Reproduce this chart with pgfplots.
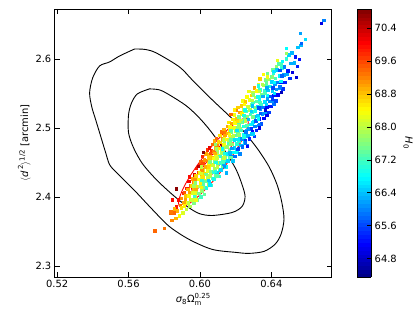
\documentclass[10pt,border=0pt]{standalone}
\usepackage{amsmath}
\usepackage{fontspec}
\setmainfont{DejaVu Sans}
\usepackage{pgfplots}
\pgfplotsset{compat=1.18}

\begin{document}
\begin{tikzpicture}
\begin{axis}[
    at={(0,0)}, anchor=south west,
    scale only axis, width=278bp, height=269bp,
    xmin=0.5187, xmax=0.6739, ymin=2.284, ymax=2.673,
    xtick={0.52,0.56,0.60,0.64}, ytick={2.3,2.4,2.5,2.6},
    xtick pos=both, ytick pos=both,
    xticklabel pos=lower, yticklabel pos=left,
    tick align=inside, major tick length=5bp,
    minor tick num=0,
    axis line style={line width=0.9bp},
    tick style={line width=0.7bp, black},
    ticklabel style={font=\fontsize{10}{12}\selectfont},
    xticklabel style={/pgf/number format/.cd, fixed, fixed zerofill, precision=2, assume math mode=true},
    yticklabel style={/pgf/number format/.cd, fixed, fixed zerofill, precision=1, assume math mode=true},
    xlabel={$\text{\itshape σ}_{\text{8}}\text{Ω}^{\text{0.25}}_{\text{m}}$},
    ylabel={$\langle\text{\itshape d}^{\,\text{2}}\rangle^{\text{1/2}}$ [arcmin]},
    label style={font=\fontsize{10}{12}\selectfont},
    xlabel style={yshift=2bp},
    ylabel style={yshift=-2bp},
    colormap/jet,
    point meta min=64.35, point meta max=70.87,
    colorbar sampled,
    colorbar style={
        at={(parent axis.north east)}, anchor=north west, xshift=17bp,
        scale only axis, width=14bp, height=269bp,
        samples=70,
        ytick={64.8,65.6,66.4,67.2,68.0,68.8,69.6,70.4},
        ytick pos=right, tick align=inside, major tick length=4bp,
        tick style={black, line width=0.6bp},
        axis line style={line width=0.8bp},
        yticklabel style={font=\fontsize{10}{12}\selectfont, /pgf/number format/.cd, fixed, fixed zerofill, precision=1, assume math mode=true},
        ylabel={$\text{\itshape H}_{\text{0}}$},
        ylabel style={rotate=180, font=\fontsize{10}{12}\selectfont},
    },
]

% MCMC samples coloured by H0
\addplot[scatter, only marks, mark=square*, mark size=1.25bp,
    scatter src=explicit,
    scatter/use mapped color={draw=mapped color, fill=mapped color}]
table[meta=c] {
x y c
0.5843 2.3668 69.2
0.5836 2.3768 69.4
0.5864 2.3694 68.9
0.5857 2.3774 69.4
0.5868 2.3864 69.9
0.5884 2.3730 68.4
0.5873 2.3800 68.9
0.5889 2.3880 69.3
0.5878 2.3960 70.0
0.5903 2.3776 68.2
0.5894 2.3846 68.6
0.5908 2.3916 69.0
0.5896 2.3986 69.1
0.5905 2.4056 69.8
0.5924 2.3822 68.0
0.5913 2.3872 68.5
0.5928 2.3922 68.4
0.5918 2.3972 69.0
0.5921 2.4022 68.8
0.5911 2.4072 69.5
0.5926 2.4132 69.9
0.5944 2.3868 67.9
0.5933 2.3918 68.0
0.5948 2.3968 68.6
0.5938 2.4018 68.4
0.5941 2.4068 69.0
0.5931 2.4118 68.9
0.5946 2.4168 69.4
0.5936 2.4228 70.1
0.5964 2.3914 67.6
0.5953 2.3964 68.1
0.5968 2.4014 68.3
0.5958 2.4064 68.2
0.5961 2.4114 68.9
0.5951 2.4164 68.7
0.5966 2.4214 69.2
0.5956 2.4264 69.0
0.5969 2.4324 70.3
0.5984 2.3960 67.4
0.5973 2.4010 67.9
0.5988 2.4060 68.1
0.5978 2.4110 67.9
0.5981 2.4160 68.6
0.5971 2.4210 68.6
0.5986 2.4260 69.0
0.5976 2.4310 68.8
0.5989 2.4360 69.6
0.5979 2.4420 69.9
0.6004 2.4006 67.2
0.5993 2.4056 67.6
0.6008 2.4106 67.9
0.5998 2.4156 67.9
0.6001 2.4206 68.5
0.5991 2.4256 68.4
0.6006 2.4306 68.9
0.5996 2.4356 68.5
0.6009 2.4406 69.2
0.5995 2.4456 69.8
0.6003 2.4516 69.4
0.6024 2.4042 67.43
0.6013 2.4092 66.96
0.6028 2.4142 67.68
0.6018 2.4192 67.61
0.6021 2.4242 68.53
0.6011 2.4292 68.16
0.6026 2.4342 68.68
0.6016 2.4392 68.21
0.6029 2.4442 68.93
0.6015 2.4492 69.56
0.6023 2.4542 69.08
0.6012 2.4592 69.81
0.6036 2.4133 66.94
0.6047 2.4183 67.87
0.6033 2.4233 67.49
0.6044 2.4283 68.02
0.6031 2.4333 67.54
0.6042 2.4383 68.27
0.6038 2.4433 68.89
0.6049 2.4483 68.42
0.6035 2.4533 69.14
0.6046 2.4583 69.47
0.6032 2.4633 68.99
0.6041 2.4688 69.74
0.6064 2.4174 67.13
0.6053 2.4224 66.66
0.6068 2.4274 67.38
0.6058 2.4324 68.01
0.6061 2.4374 67.53
0.6051 2.4424 68.26
0.6066 2.4474 68.58
0.6056 2.4524 67.81
0.6069 2.4574 68.83
0.6055 2.4624 68.76
0.6063 2.4674 69.68
0.6052 2.4724 69.31
0.6076 2.4265 66.94
0.6087 2.4315 67.57
0.6073 2.4365 67.09
0.6084 2.4415 67.82
0.6071 2.4465 68.14
0.6082 2.4515 67.67
0.6078 2.4565 68.39
0.6089 2.4615 68.32
0.6075 2.4665 69.24
0.6086 2.4715 68.87
0.6072 2.4765 69.39
0.6081 2.4820 68.94
0.6104 2.4306 67.03
0.6093 2.4356 66.56
0.6108 2.4406 67.28
0.6098 2.4456 67.21
0.6101 2.4506 68.13
0.6091 2.4556 67.76
0.6106 2.4606 68.28
0.6096 2.4656 67.81
0.6109 2.4706 68.53
0.6095 2.4756 69.16
0.6103 2.4806 68.68
0.6092 2.4856 69.41
0.6116 2.4397 66.54
0.6127 2.4447 67.47
0.6113 2.4497 67.09
0.6124 2.4547 67.62
0.6111 2.4597 67.14
0.6122 2.4647 67.87
0.6118 2.4697 68.49
0.6129 2.4747 68.02
0.6115 2.4797 68.74
0.6126 2.4847 69.07
0.6112 2.4897 68.59
0.6121 2.4952 69.34
0.6144 2.4438 66.73
0.6133 2.4488 66.26
0.6148 2.4538 66.98
0.6138 2.4588 67.61
0.6141 2.4638 67.13
0.6131 2.4688 67.86
0.6146 2.4738 68.18
0.6136 2.4788 67.71
0.6149 2.4838 68.43
0.6135 2.4888 68.36
0.6143 2.4938 69.28
0.6132 2.4988 68.91
0.6156 2.4529 66.54
0.6167 2.4579 67.17
0.6153 2.4629 66.69
0.6164 2.4679 67.42
0.6151 2.4729 67.74
0.6162 2.4779 67.27
0.6158 2.4829 67.99
0.6169 2.4879 67.92
0.6155 2.4929 68.84
0.6166 2.4979 68.47
0.6152 2.5029 68.99
0.6161 2.5084 68.54
0.6184 2.4530 66.45
0.6173 2.4590 66.02
0.6188 2.4650 66.79
0.6178 2.4710 66.76
0.6181 2.4770 67.73
0.6171 2.4830 67.40
0.6186 2.4890 67.97
0.6176 2.4950 67.54
0.6189 2.5010 68.31
0.6175 2.5070 68.98
0.6183 2.5130 68.55
0.6172 2.5200 69.37
0.6196 2.4596 65.85
0.6207 2.4656 66.82
0.6193 2.4716 66.49
0.6204 2.4776 67.06
0.6191 2.4836 66.63
0.6202 2.4896 67.40
0.6198 2.4956 68.07
0.6209 2.5016 67.64
0.6195 2.5076 68.41
0.6206 2.5136 68.78
0.6192 2.5196 68.35
0.6201 2.5266 69.17
0.6224 2.4632 66.02
0.6213 2.4692 65.59
0.6228 2.4752 66.36
0.6218 2.4812 67.03
0.6221 2.4872 66.60
0.6211 2.4932 67.37
0.6226 2.4992 67.74
0.6216 2.5052 67.31
0.6229 2.5112 68.08
0.6215 2.5172 68.05
0.6223 2.5232 69.02
0.6212 2.5302 68.73
0.6236 2.4728 65.85
0.6247 2.4788 66.52
0.6233 2.4848 66.09
0.6244 2.4908 66.86
0.6231 2.4968 67.23
0.6242 2.5028 66.80
0.6238 2.5088 67.57
0.6249 2.5148 67.54
0.6235 2.5208 68.51
0.6246 2.5268 68.18
0.6232 2.5328 68.75
0.6241 2.5398 68.37
0.6264 2.4754 65.87
0.6253 2.4824 65.49
0.6268 2.4894 66.30
0.6258 2.4964 66.32
0.6261 2.5034 67.33
0.6251 2.5104 67.05
0.6266 2.5174 67.66
0.6256 2.5244 67.28
0.6269 2.5314 68.09
0.6255 2.5384 68.81
0.6263 2.5454 68.42
0.6276 2.4850 65.41
0.6287 2.4920 66.42
0.6273 2.4990 66.14
0.6284 2.5060 66.75
0.6271 2.5130 66.37
0.6282 2.5200 67.18
0.6278 2.5270 67.90
0.6289 2.5340 67.51
0.6275 2.5410 68.33
0.6286 2.5480 68.74
0.6272 2.5540 68.31
0.6304 2.4886 65.57
0.6293 2.4956 65.19
0.6308 2.5026 66.00
0.6298 2.5096 66.72
0.6301 2.5166 66.33
0.6291 2.5236 67.15
0.6306 2.5306 67.56
0.6296 2.5376 67.18
0.6309 2.5446 67.99
0.6295 2.5516 68.01
0.6303 2.5586 69.02
0.6316 2.4972 65.36
0.6327 2.5042 66.08
0.6313 2.5112 65.69
0.6324 2.5182 66.51
0.6311 2.5252 66.92
0.6322 2.5322 66.54
0.6318 2.5392 67.35
0.6329 2.5462 67.37
0.6315 2.5542 68.43
0.6326 2.5632 68.23
0.6344 2.5068 65.70
0.6333 2.5138 65.31
0.6348 2.5208 66.13
0.6338 2.5278 66.14
0.6341 2.5348 67.16
0.6331 2.5418 66.87
0.6346 2.5488 67.49
0.6336 2.5558 67.10
0.6349 2.5638 67.96
0.6335 2.5718 68.72
0.6356 2.5144 65.14
0.6367 2.5224 66.20
0.6353 2.5304 65.96
0.6364 2.5384 66.62
0.6351 2.5464 66.28
0.6362 2.5544 67.14
0.6358 2.5624 67.90
0.6369 2.5704 67.56
0.6355 2.5784 68.42
0.6384 2.5230 65.53
0.6373 2.5310 65.19
0.6388 2.5390 66.05
0.6378 2.5470 66.81
0.6381 2.5550 66.47
0.6371 2.5630 67.33
0.6386 2.5710 67.79
0.6376 2.5800 67.50
0.6396 2.5316 65.32
0.6407 2.5396 66.08
0.6393 2.5466 65.70
0.6404 2.5536 66.51
0.6391 2.5606 66.93
0.6402 2.5676 66.54
0.6398 2.5756 67.40
0.6409 2.5846 67.51
0.6424 2.5402 65.61
0.6413 2.5482 65.27
0.6428 2.5562 66.13
0.6418 2.5642 66.19
0.6421 2.5722 67.25
0.6411 2.5802 67.01
0.6426 2.5892 67.72
0.6436 2.5488 65.10
0.6447 2.5578 66.21
0.6433 2.5668 66.01
0.6444 2.5758 66.72
0.6431 2.5848 66.42
0.6442 2.5938 67.33
0.6464 2.5574 65.49
0.6453 2.5674 65.24
0.6468 2.5774 66.19
0.6458 2.5874 67.04
0.6461 2.5974 66.79
0.6476 2.5670 65.33
0.6487 2.5780 66.22
0.6473 2.5890 66.02
0.6484 2.6010 67.06
0.6504 2.5726 65.48
0.6493 2.5836 65.28
0.6508 2.5946 66.27
0.6498 2.6066 66.51
0.6516 2.5812 64.97
0.6527 2.5952 66.30
0.6513 2.6092 66.33
0.6544 2.5898 65.36
0.6533 2.6038 65.29
0.6548 2.6178 66.42
0.6556 2.6004 65.24
0.6564 2.6204 66.34
0.5975 2.3962 68.28
0.5968 2.4012 67.15
0.5972 2.4062 68.23
0.5977 2.4112 69.00
0.5966 2.4162 67.88
0.5974 2.4212 67.65
0.5970 2.4262 69.13
0.5978 2.4312 68.70
0.6013 2.4094 67.70
0.6006 2.4144 68.47
0.6017 2.4194 67.35
0.6009 2.4244 67.12
0.6015 2.4294 68.60
0.6004 2.4344 68.17
0.6012 2.4394 69.15
0.6007 2.4444 68.02
0.6055 2.4181 66.66
0.6047 2.4246 66.49
0.6052 2.4311 68.01
0.6057 2.4376 67.64
0.6046 2.4441 68.67
0.6054 2.4506 67.60
0.6050 2.4571 68.73
0.6058 2.4636 69.55
0.6093 2.4313 67.38
0.6086 2.4378 67.01
0.6097 2.4443 68.03
0.6089 2.4508 66.96
0.6095 2.4573 68.09
0.6084 2.4638 68.92
0.6092 2.4703 67.85
0.6087 2.4768 67.67
0.6135 2.4445 66.10
0.6127 2.4510 67.23
0.6132 2.4575 68.05
0.6137 2.4640 66.98
0.6126 2.4705 66.81
0.6134 2.4770 68.34
0.6130 2.4835 67.97
0.6138 2.4900 68.99
0.6173 2.4577 67.42
0.6166 2.4642 66.35
0.6177 2.4707 66.17
0.6169 2.4772 67.70
0.6175 2.4837 67.33
0.6164 2.4902 68.36
0.6172 2.4967 67.29
0.6167 2.5032 68.41
0.6215 2.4709 65.54
0.6207 2.4774 67.07
0.6212 2.4839 66.69
0.6217 2.4904 67.72
0.6206 2.4969 66.65
0.6214 2.5034 67.78
0.6210 2.5099 68.61
0.6218 2.5164 67.53
0.6253 2.4791 65.89
0.6246 2.4871 66.97
0.6257 2.4951 65.95
0.6249 2.5031 67.13
0.6255 2.5111 68.01
0.6244 2.5191 66.99
0.6252 2.5271 66.87
0.6247 2.5351 68.45
0.6295 2.4923 66.51
0.6287 2.5003 65.49
0.6292 2.5083 66.67
0.6297 2.5163 67.55
0.6286 2.5243 66.53
0.6294 2.5323 66.41
0.6290 2.5403 67.99
0.6298 2.5483 67.67
0.6333 2.5055 65.93
0.6326 2.5135 66.81
0.6337 2.5215 65.79
0.6329 2.5295 65.67
0.6335 2.5375 67.25
0.6324 2.5455 66.93
0.6332 2.5535 68.01
0.6327 2.5615 66.99
0.6375 2.5187 65.05
0.6367 2.5267 64.93
0.6372 2.5347 66.51
0.6377 2.5427 66.19
0.6366 2.5507 67.27
0.6374 2.5587 66.25
0.6370 2.5667 67.43
0.6378 2.5747 68.31
0.6413 2.5349 65.87
0.6406 2.5429 65.55
0.6417 2.5509 66.63
0.6409 2.5589 65.61
0.6415 2.5669 66.79
0.6404 2.5749 67.67
0.6412 2.5829 66.65
0.6455 2.5521 64.73
0.6447 2.5601 65.91
0.6452 2.5681 66.79
0.6457 2.5761 65.77
0.6446 2.5841 65.65
0.6454 2.5921 67.23
0.6679 2.6525 65.0
0.6693 2.6569 66.0
0.6562 2.6381 66.2
0.6590 2.6294 66.6
0.6568 2.6236 65.8
0.6484 2.6164 66.8
0.6538 2.5737 64.9
0.6432 2.5990 68.3
0.6482 2.6090 67.8
0.6192 2.5266 68.5
0.6265 2.4741 65.2
0.6147 2.4354 66.3
0.6331 2.5004 65.0
0.5746 2.3513 69.4
0.5801 2.3545 69.3
0.5835 2.3791 69.3
0.5857 2.3834 68.9
0.5846 2.3964 70.0
0.5868 2.4123 70.8
0.6017 2.4649 70.8
0.6052 2.4716 70.2
0.5940 2.4297 70.0
0.5990 2.4450 70.5
};

% black contours (68% and 95%)
\addplot[black, line width=0.9bp, smooth] coordinates {
(0.5634,2.6149) (0.5695,2.6142) (0.5756,2.6091) (0.5885,2.5889) (0.5957,2.5700)
(0.6069,2.5411) (0.6203,2.5078) (0.6314,2.4731) (0.6387,2.4442) (0.6432,2.4181)
(0.6459,2.3921) (0.6471,2.3675) (0.6454,2.3458) (0.6420,2.3313) (0.6359,2.3212)
(0.6275,2.3183) (0.6203,2.3197) (0.6069,2.3241) (0.5940,2.3385) (0.5829,2.3573)
(0.5734,2.3819) (0.5645,2.4065) (0.5589,2.4210) (0.5533,2.4355) (0.5494,2.4470)
(0.5472,2.4644) (0.5438,2.4934) (0.5416,2.5122) (0.5394,2.5310) (0.5382,2.5512)
(0.5399,2.5729) (0.5438,2.5903) (0.5494,2.5961) (0.5550,2.6048) (0.5634,2.6149)
};
\addplot[black, line width=0.9bp, smooth] coordinates {
(0.5717,2.5570) (0.5773,2.5556) (0.5829,2.5483) (0.5924,2.5324) (0.5996,2.5151)
(0.6063,2.4948) (0.6147,2.4644) (0.6203,2.4398) (0.6236,2.4181) (0.6253,2.4007)
(0.6236,2.3863) (0.6180,2.3776) (0.6069,2.3733) (0.5996,2.3761) (0.5929,2.3863)
(0.5846,2.4036) (0.5756,2.4253) (0.5678,2.4485) (0.5628,2.4716) (0.5600,2.4934)
(0.5600,2.5194) (0.5617,2.5368) (0.5650,2.5498) (0.5717,2.5570)
};

% red contours
\addplot[red, line width=0.9bp, smooth] coordinates {
(0.6264,2.5135) (0.6271,2.5087) (0.6264,2.4999) (0.6245,2.4877) (0.6214,2.4730)
(0.6173,2.4567) (0.6126,2.4399) (0.6076,2.4238) (0.6025,2.4096) (0.5978,2.3981)
(0.5937,2.3901) (0.5906,2.3862) (0.5887,2.3867) (0.5880,2.3915) (0.5887,2.4003)
(0.5906,2.4125) (0.5937,2.4272) (0.5978,2.4435) (0.6025,2.4603) (0.6075,2.4763)
(0.6126,2.4906) (0.6173,2.5021) (0.6214,2.5101) (0.6245,2.5140) (0.6264,2.5135)
};
\addplot[red, line width=0.9bp, smooth] coordinates {
(0.6190,2.4879) (0.6193,2.4852) (0.6187,2.4800) (0.6174,2.4727) (0.6154,2.4637)
(0.6129,2.4537) (0.6099,2.4433) (0.6068,2.4333) (0.6037,2.4244) (0.6009,2.4171)
(0.5985,2.4120) (0.5966,2.4093) (0.5956,2.4093) (0.5953,2.4121) (0.5958,2.4173)
(0.5971,2.4246) (0.5991,2.4336) (0.6017,2.4436) (0.6046,2.4540) (0.6077,2.4640)
(0.6108,2.4729) (0.6137,2.4801) (0.6161,2.4853) (0.6179,2.4879) (0.6190,2.4879)
};
\end{axis}
\path (-55bp,-50bp) rectangle (361bp,278bp);
\end{tikzpicture}
\end{document}
